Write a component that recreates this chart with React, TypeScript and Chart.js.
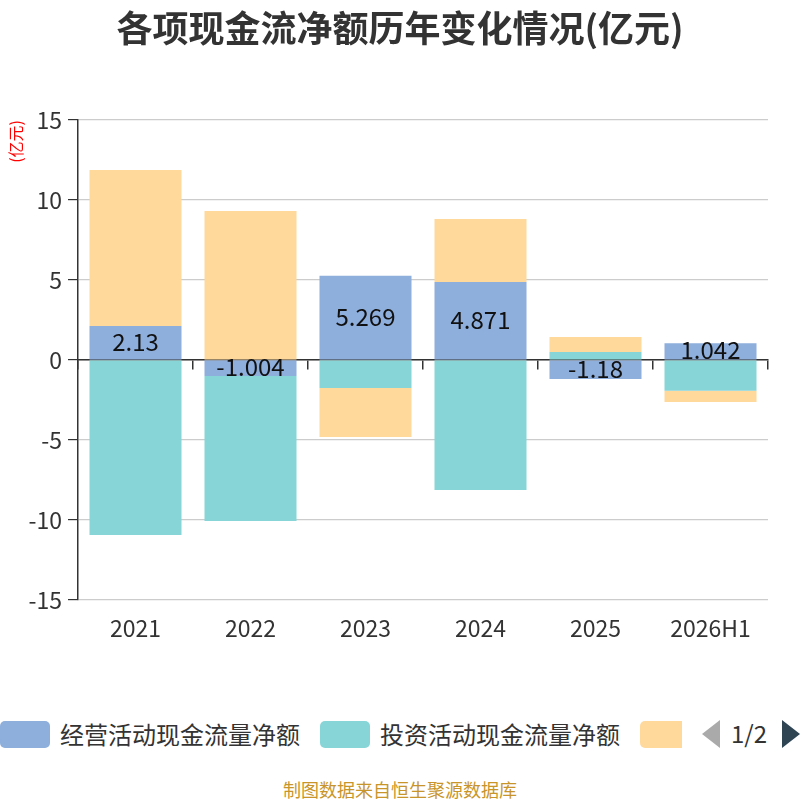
import { useEffect, useRef } from 'react';
import Chart from 'chart.js/auto';

const categories = ['2021', '2022', '2023', '2024', '2025', '2026H1'];
const operating = [2.13, -1.004, 5.269, 4.871, -1.18, 1.042];
const investing = [-10.94, -9.06, -1.75, -8.13, 0.5, -1.92];
const financing = [9.75, 9.31, -3.06, 3.94, 0.94, -0.71];
const yTicks = [15, 10, 5, 0, -5, -10, -15];

const seriesNames = ['经营活动现金流量净额', '投资活动现金流量净额', '筹资活动现金流量净额'];
const seriesColors = ['#8eaedb', '#88d5d8', '#fed99b'];

const FONT = '"Noto Sans CJK SC", "Noto Sans", sans-serif';

const valueLabels = {
    id: 'valueLabels',
    afterDatasetsDraw(chart: Chart) {
        const { ctx } = chart;
        const meta = chart.getDatasetMeta(0);
        ctx.save();
        ctx.font = `24px ${FONT}`;
        ctx.fillStyle = '#111';
        ctx.textAlign = 'center';
        ctx.textBaseline = 'middle';
        meta.data.forEach((bar, i) => {
            const p = bar.getCenterPoint();
            ctx.fillText(String(operating[i]), p.x, p.y - 1);
        });
        ctx.restore();
    }
};

export default function App() {
    const canvasRef = useRef<HTMLCanvasElement>(null);

    useEffect(() => {
        if (!canvasRef.current) return;
        const chart = new Chart(canvasRef.current, {
            type: 'bar',
            data: {
                labels: categories,
                datasets: [operating, investing, financing].map((d, i) => ({
                    label: seriesNames[i],
                    data: d,
                    backgroundColor: seriesColors[i],
                    borderWidth: 0,
                    stack: 's',
                    categoryPercentage: 0.8,
                    barPercentage: 1.0
                }))
            },
            options: {
                responsive: false,
                animation: false,
                layout: { padding: { top: 120, right: 32, bottom: 30, left: 0 } },
                plugins: {
                    legend: { display: false },
                    tooltip: { enabled: false },
                    title: { display: false }
                },
                scales: {
                    x: {
                        stacked: true,
                        offset: true,
                        grid: { display: false },
                        border: { display: false },
                        ticks: { color: '#333', padding: 6, font: { family: FONT, size: 23 } },
                        afterFit: (scale: any) => { scale.height = 60; }
                    },
                    x2: {
                        type: 'category',
                        labels: categories,
                        position: { y: 0 },
                        offset: true,
                        grid: { offset: true, drawOnChartArea: false, drawTicks: true, tickLength: 9, tickColor: '#333', lineWidth: 1.5 },
                        border: { color: '#333', width: 1.5 },
                        ticks: { display: false }
                    },
                    y: {
                        stacked: true,
                        min: -15,
                        max: 15,
                        afterBuildTicks: (scale: any) => {
                            scale.ticks = yTicks.map(v => ({ value: v }));
                        },
                        afterFit: (scale: any) => { scale.width = 78; },
                        grid: { color: '#ccc', tickColor: '#333', tickLength: 10, lineWidth: 1.2 },
                        border: { color: '#333', width: 1.5 },
                        ticks: { color: '#333', padding: 6, font: { family: FONT, size: 23 } },
                        title: {
                            display: true,
                            text: '(亿元)',
                            color: '#f00',
                            align: 'end',
                            padding: 6,
                            font: { family: FONT, size: 16 }
                        }
                    }
                }
            },
            plugins: [valueLabels]
        });
        return () => chart.destroy();
    }, []);

    return (
        <div style={{ position: 'fixed', top: 0, left: 0, width: 800, height: 800, background: '#fff', fontFamily: FONT, overflow: 'hidden' }}>
            <canvas ref={canvasRef} width={800} height={690} style={{ position: 'absolute', top: 0, left: 0 }} />
            <div style={{ position: 'absolute', top: 0, left: 0, width: 800, textAlign: 'center', fontSize: 36, fontWeight: 'bold', color: '#333', lineHeight: '52px' }}>
                各项现金流净额历年变化情况(亿元)
            </div>
            <div style={{ position: 'absolute', top: 720, left: 0, width: 682, height: 30, overflow: 'hidden', whiteSpace: 'nowrap' }}>
                {seriesNames.map((name, i) => (
                    <div key={name} style={{ display: 'inline-flex', alignItems: 'center', marginRight: 20, height: 28 }}>
                        <span style={{ display: 'inline-block', width: 50, height: 27, borderRadius: 5, background: seriesColors[i] }} />
                        <span style={{ marginLeft: 10, fontSize: 24, color: '#333', lineHeight: '28px' }}>{name}</span>
                    </div>
                ))}
            </div>
            <div style={{ position: 'absolute', top: 720, left: 702, width: 0, height: 0, borderTop: '14px solid transparent', borderBottom: '14px solid transparent', borderRight: '18px solid #aaa' }} />
            <div style={{ position: 'absolute', top: 718, left: 731, fontSize: 24, color: '#333', lineHeight: '30px' }}>1/2</div>
            <div style={{ position: 'absolute', top: 720, left: 782, width: 0, height: 0, borderTop: '14px solid transparent', borderBottom: '14px solid transparent', borderLeft: '18px solid #2f4554' }} />
            <div style={{ position: 'absolute', top: 776, left: 0, width: 800, textAlign: 'center', fontSize: 18, color: '#c8952b', lineHeight: '26px' }}>
                制图数据来自恒生聚源数据库
            </div>
        </div>
    );
}
